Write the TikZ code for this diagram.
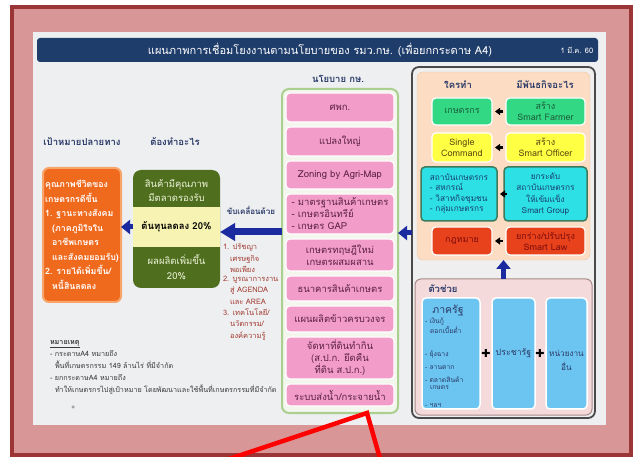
\documentclass[tikz,border=0pt]{standalone}
\usepackage{fontspec}
\newfontfamily\thai[Script=Thai]{Loma}
\newfontfamily\sym{DejaVu Sans}
\usetikzlibrary{positioning,arrows.meta}

\definecolor{framered}{HTML}{9C3636}
\definecolor{framepink}{HTML}{D99696}
\definecolor{slidebg}{HTML}{EDEFF1}
\definecolor{navy}{HTML}{1F3D6B}
\definecolor{headtext}{HTML}{2B3A68}
\definecolor{orangefill}{HTML}{F06A1E}
\definecolor{orangeline}{HTML}{F7A56A}
\definecolor{olive}{HTML}{4F6F1F}
\definecolor{olivetext}{HTML}{EEF3D8}
\definecolor{band}{HTML}{F7F3B2}
\definecolor{arrowblue}{HTML}{1B2A9E}
\definecolor{listred}{HTML}{A33A30}
\definecolor{notegray}{HTML}{3A3A3A}
\definecolor{pinkfill}{HTML}{F29CC9}
\definecolor{pinktext}{HTML}{5C2146}
\definecolor{polline}{HTML}{AACF8E}
\definecolor{polfill}{HTML}{F3F6EC}
\definecolor{outline}{HTML}{4A4A4A}
\definecolor{rtfill}{HTML}{EFEFEF}
\definecolor{peach}{HTML}{FCDDC3}
\definecolor{peachline}{HTML}{EDC6A6}
\definecolor{mintfill}{HTML}{33D884}
\definecolor{minttext}{HTML}{1B5E3B}
\definecolor{yellowfill}{HTML}{FFFF44}
\definecolor{yellowtext}{HTML}{5A4A10}
\definecolor{cyanfill}{HTML}{2CE0E6}
\definecolor{cyanline}{HTML}{3C7A5C}
\definecolor{cyantext}{HTML}{1A3F6E}
\definecolor{redfill}{HTML}{E8421C}
\definecolor{redtext}{HTML}{7E0C0C}
\definecolor{helpfill}{HTML}{F4DADA}
\definecolor{helpline}{HTML}{A88A8A}
\definecolor{skyfill}{HTML}{6CC5F1}

\newcommand{\subln}{\hspace*{7pt}}  % hanging indent of a wrapped line
\newcommand{\noteln}{\hspace*{5pt}}

\tikzset{
  x=1pt, y=-1pt, % one unit is one pixel of the slide, y runs down
  every node/.style={font=\thai\fontsize{7}{9}\selectfont, outer sep=0pt},
  heading/.style={text=headtext, font=\thai\bfseries\fontsize{9.5}{11}\selectfont},
  panel/.style={rounded corners=4pt, align=center, inner sep=1pt},
  pinkbox/.style={panel, fill=pinkfill, draw=white, line width=1.2pt, minimum width=108pt,
    text=pinktext, font=\thai\fontsize{9.5}{12}\selectfont},
  rowbox/.style={panel, draw=white, line width=1.2pt, font=\thai\fontsize{9}{11}\selectfont},
  skybox/.style={panel, fill=skyfill, draw=white, line width=1.5pt, minimum height=111pt},
  listitem/.style={anchor=north west, align=left, inner sep=0pt, text=listred,
    font=\thai\fontsize{7.5}{11.5}\selectfont},
  bigarrow/.style={arrowblue, line width=7pt, -{Triangle[length=15pt,width=17pt]}},
  midarrow/.style={arrowblue, line width=5pt, -{Triangle[length=9pt,width=14pt]}},
  smallarrow/.style={black, line width=2.5pt, -{Triangle[length=5pt,width=7pt]},
    shorten >=3pt, shorten <=3pt},
  node distance=5pt, % gap between the pink policy boxes
}

\begin{document}
\begin{tikzpicture}
  \useasboundingbox (0,0) rectangle (638,457);
  % frame and slide
  \draw[framered, line width=4pt, fill=framepink] (12,7) rectangle (631,455);
  \fill[slidebg] (33,32) rectangle (606,425);
  \node[fill=navy, rounded corners=3pt, minimum width=561pt, minimum height=24pt] (hdr) at (317.5,50) {};
  \node[text=white, font=\thai\fontsize{11}{13}\selectfont] (title) at (320,50)
    {แผนภาพการเชื่อมโยงงานตามนโยบายของ รมว.กษ. (เพื่อยกกระดาษ A4)};
  \node[text=white, font=\thai\fontsize{7.5}{9}\selectfont] (date) at (577,50) {1 มี.ค. 60};

  % headings
  \node[heading] (hgoal) at (82,142) {เป้าหมายปลายทาง};
  \node[heading] (htodo) at (175,142) {ต้องทำอะไร};
  \node[heading] (hpol) at (338,79) {นโยบาย กษ.};
  \node[heading, font=\thai\bfseries\fontsize{8}{10}\selectfont] (hdrv) at (251,210) {ขับเคลื่อนด้วย};

  % goal
  \node[panel, fill=orangefill, draw=orangeline, line width=2pt, rounded corners=6pt,
        minimum width=78pt, minimum height=134pt, align=left, text=white,
        font=\thai\bfseries\fontsize{8.8}{14.5}\selectfont] (goal) at (82,235)
    {คุณภาพชีวิตของ\\เกษตรกรดีขึ้น\\1. ฐานะทางสังคม\\\subln(ภาคภูมิใจใน\\\subln อาชีพเกษตร\\\subln และสังคมยอมรับ)\\2. รายได้เพิ่มขึ้น/\\\subln หนี้สินลดลง};

  % what to do
  \node[panel, fill=olive, rounded corners=8pt, minimum width=87pt, minimum height=118pt] (todo) at (176.5,229) {};
  \node[fill=band, minimum width=87pt, minimum height=40pt,
        font=\thai\bfseries\fontsize{9.5}{11}\selectfont] (cost) at (176.5,227) {ต้นทุนลดลง 20\%};
  \node[text=olivetext, align=center, font=\thai\fontsize{9.5}{14}\selectfont] (qual) at (176.5,191)
    {สินค้ามีคุณภาพ\\มีตลาดรองรับ};
  \node[text=olivetext, align=center, font=\thai\fontsize{9.5}{15}\selectfont] (yield) at (176.5,267.5)
    {ผลผลิตเพิ่มขึ้น\\20\%};

  % driven by
  \node[listitem] (d1) at (223,244) {1. ปรัชญา\\\subln เศรษฐกิจ\\\subln พอเพียง};
  \node[listitem, below=3pt of d1.south west, anchor=north west] (d2)
    {2. บูรณาการงาน\\\subln สู่ AGENDA\\\subln และ AREA};
  \node[listitem, below=4pt of d2.south west, anchor=north west] (d3)
    {3. เทคโนโลยี/\\\subln นวัตกรรม/\\\subln องค์ความรู้};

  % note
  \node[anchor=north west, align=left, inner sep=0pt, text=notegray,
        font=\thai\fontsize{7.2}{12}\selectfont] (note) at (50,340)
    {\underline{\textbf{หมายเหตุ}}\\- กระดาษA4 หมายถึง\\\noteln พื้นที่เกษตรกรรม 149 ล้านไร่ ที่มีจำกัด\\- ยกกระดาษA4 หมายถึง\\\noteln ทำให้เกษตรกรไปสู่เป้าหมาย โดยพัฒนาและใช้พื้นที่เกษตรกรรมที่มีจำกัด};
  \node[circle, fill=gray!70, inner sep=0pt, minimum size=3.5pt] (dot) at (73,407) {};

  % policy column
  \node[draw=polline, fill=polfill, line width=2pt, rounded corners=7pt,
        minimum width=116pt, minimum height=324pt] (pol) at (340,251) {};
  \node[pinkbox, minimum height=29pt, anchor=north] (p1) at (340,93) {ศพก.};
  \node[pinkbox, minimum height=29pt, below=of p1] (p2) {แปลงใหญ่};
  \node[pinkbox, minimum height=28pt, below=of p2] (p3) {Zoning by Agri-Map};
  \node[pinkbox, minimum height=40pt, below=of p3, align=left] (p4)
    {- มาตรฐานสินค้าเกษตร\\- เกษตรอินทรีย์\\- เกษตร GAP};
  \node[pinkbox, minimum height=32pt, below=of p4] (p5) {เกษตรทฤษฎีใหม่\\เกษตรผสมผสาน};
  \node[pinkbox, minimum height=25pt, below=of p5] (p6) {ธนาคารสินค้าเกษตร};
  \node[pinkbox, minimum height=26pt, below=of p6] (p7) {แผนผลิตข้าวครบวงจร};
  \node[pinkbox, minimum height=42pt, below=of p7] (p8) {จัดหาที่ดินทำกิน\\(ส.ป.ก. ยึดคืน\\ที่ดิน ส.ป.ก.)};
  \node[pinkbox, minimum height=22pt, below=of p8] (p9) {ระบบส่งน้ำ/กระจายน้ำ};

  % who does what
  \node[draw=outline, line width=1.8pt, fill=rtfill, rounded corners=7pt,
        minimum width=183pt, minimum height=351pt] (rt) at (503.5,242.5) {};
  \node[draw=peachline, fill=peach, rounded corners=6pt,
        minimum width=173pt, minimum height=188pt] (who) at (503.5,166) {};
  \node[heading] (hwho) at (458,85) {ใครทำ};
  \node[heading] (hmis) at (545,85) {มีพันธกิจอะไร};
  \node[rowbox, fill=mintfill, text=minttext, minimum width=60pt, minimum height=27pt] (fa) at (462,111.5) {เกษตรกร};
  \node[rowbox, fill=mintfill, text=minttext, minimum width=79pt, minimum height=27pt] (sf) at (545.5,111.5) {สร้าง\\Smart Farmer};
  \node[rowbox, fill=yellowfill, text=yellowtext, minimum width=60pt, minimum height=29pt] (sc) at (462,147.5) {Single\\Command};
  \node[rowbox, fill=yellowfill, text=yellowtext, minimum width=79pt, minimum height=29pt] (so) at (545.5,147.5) {สร้าง\\Smart Officer};
  \node[rowbox, fill=cyanfill, draw=cyanline, line width=1.5pt, text=cyantext, align=left,
        minimum width=76pt, minimum height=54pt, font=\thai\fontsize{8.3}{10.5}\selectfont] (inst) at (459,194)
    {สถาบันเกษตรกร\\- สหกรณ์\\- วิสาหกิจชุมชน\\- กลุ่มเกษตรกร};
  \node[rowbox, fill=cyanfill, draw=cyanline, line width=1.5pt, text=cyantext,
        minimum width=83pt, minimum height=54pt, font=\thai\fontsize{8.3}{11.5}\selectfont] (sg) at (545.5,194)
    {ยกระดับ\\สถาบันเกษตรกร\\ให้เข้มแข็ง\\Smart Group};
  \node[rowbox, fill=redfill, text=redtext, minimum width=60pt, minimum height=28pt] (law) at (462,241) {กฎหมาย};
  \node[rowbox, fill=redfill, text=redtext, minimum width=79pt, minimum height=28pt] (sl) at (545.5,241) {ยกร่าง/ปรับปรุง\\Smart Law};

  % helpers
  \node[draw=helpline, fill=helpfill, line width=1pt, rounded corners=6pt,
        minimum width=177pt, minimum height=136pt] (help) at (503.5,347) {};
  \node[heading] (hhelp) at (443,289) {ตัวช่วย};
  \node[skybox, minimum width=58pt] (gov) at (451,353.5) {};
  \node[text=headtext, font=\thai\fontsize{10.5}{12}\selectfont] (govh) at (448,311) {ภาครัฐ};
  \node[anchor=north west, align=left, inner sep=0pt, text=headtext,
        font=\thai\fontsize{6.8}{7.5}\selectfont] (govl) at (425,318)
    {- เงินกู้\\\noteln ดอกเบี้ยต่ำ\\[15pt]- ยุ้งฉาง\\[5.5pt]- ลานตาก\\[5.5pt]- ตลาดสินค้า\\\noteln เกษตร\\[10pt]- ฯลฯ};
  \node[skybox, minimum width=43pt, text=headtext, font=\thai\fontsize{8.8}{10}\selectfont] (pr) at (513.5,353.5) {ประชารัฐ};
  \node[skybox, minimum width=41pt] (oth) at (566.5,353.5) {};
  \node[text=headtext, align=center, font=\thai\fontsize{8.2}{14}\selectfont] (otht) at (566.5,360) {หน่วยงาน\\อื่น};
  \node[font=\sym\fontsize{11}{11}\selectfont] (plus1) at (486,353) {✚};
  \node[font=\sym\fontsize{11}{11}\selectfont] (plus2) at (540,353) {✚};

  % arrows
  \draw[smallarrow] (sf.west) -- (fa.east);
  \draw[smallarrow] (so.west) -- (sc.east);
  \draw[smallarrow] (sg.west) -- (inst.east);
  \draw[smallarrow] (sl.west) -- (law.east);
  \draw[midarrow] (help.north) -- (help.north |- who.south);
  \draw[midarrow] (rt.west |- 0,233) -- (pol.east |- 0,233);
  \draw[bigarrow] (pol.west |- 0,232) -- (todo.east |- 0,232);
  \draw[midarrow] (todo.west |- 0,227) -- (goal.east |- 0,227);

  % red marker
  \draw[red, line width=4.5pt, line join=miter] (220,462) -- (367,413) -- (381,462);
\end{tikzpicture}
\end{document}
